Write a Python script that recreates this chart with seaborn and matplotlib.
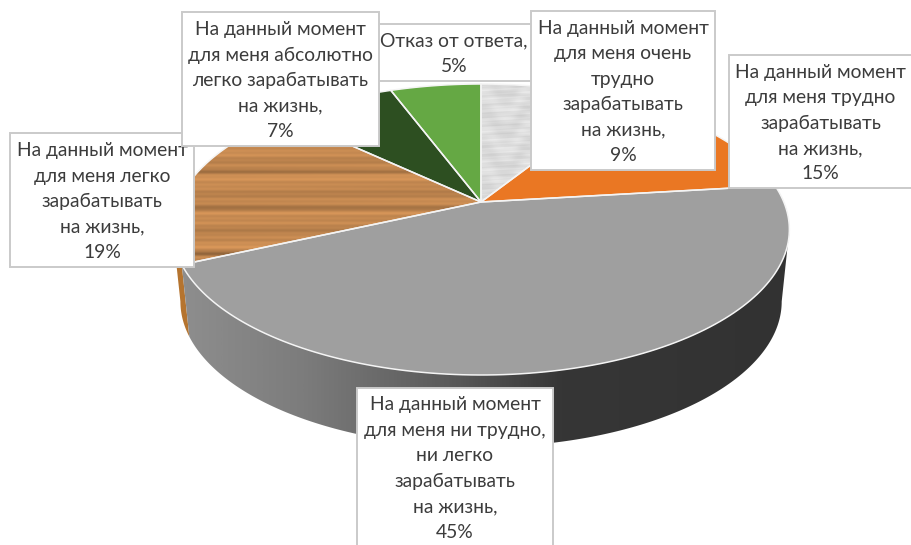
"""3D-looking pie: how easy it is to earn a living (survey shares)."""

import numpy as np
import matplotlib
matplotlib.use("Agg")
import matplotlib.pyplot as plt
import seaborn as sns
from matplotlib.colors import LinearSegmentedColormap
from matplotlib.patches import Polygon, Rectangle
from matplotlib.transforms import Affine2D

categories = [
    "очень трудно", "трудно", "ни трудно, ни легко",
    "легко", "абсолютно легко", "Отказ от ответа",
]
slice_sizes = [8.9, 14.2, 45.15, 18.75, 7.3, 5.7]
slice_colors = ["#d4d4d4", "#ea7723", "#9f9f9f", "#bd834a", "#2d4f21", "#65a844"]

label_texts = [
    "На данный момент\nдля меня очень\nтрудно\nзарабатывать\nна жизнь,\n9%",
    "На данный момент\nдля меня трудно\nзарабатывать\nна жизнь,\n15%",
    "На данный момент\nдля меня ни трудно,\nни легко\nзарабатывать\nна жизнь,\n45%",
    "На данный момент\nдля меня легко\nзарабатывать\nна жизнь,\n19%",
    "На данный момент\nдля меня абсолютно\nлегко зарабатывать\nна жизнь,\n7%",
    "Отказ от ответа,\n5%",
]
# label boxes in pixels: left, top, right, bottom
label_boxes = [
    (531, 11, 715, 170),
    (729, 55, 912, 188),
    (357, 388, 553, 546),
    (10, 133, 194, 267),
    (182, 12, 379, 146),
    (376, 24, 532, 81),
]
label_order = [3, 2, 1, 5, 4, 0]

# perspective of the pie top, in pixels
APEX_X, APEX_Y = 481, 202
A, B, K = 302.8, 140.3, 0.189
DEPTH = 72
SHRINK = 0.975
CX = 483


def warp(x, y):
    w = 1 + K * y
    return APEX_X + A * x / w, APEX_Y - B * y / w


def rim(clock_deg):
    t = np.radians(clock_deg)
    return warp(np.sin(t), np.cos(t))


def wall_polygon(start, end):
    t = np.linspace(start, end, 200)
    xt, yt = rim(t)
    xb = CX + (xt - CX) * SHRINK
    yb = yt + DEPTH
    return np.column_stack([np.r_[xt, xb[::-1]], np.r_[yt, yb[::-1]]])


def marble_texture():
    yy, xx = np.mgrid[0:150, 0:150]
    v = (np.sin(yy * 0.62 + np.sin(xx * 0.05) * 3) * 0.4
         + np.sin(yy * 1.5 + xx * 0.07) * 0.3
         + np.sin(yy * 0.17 + np.sin(xx * 0.13) * 2 + xx * 0.02) * 0.45
         + np.sin(yy * 2.9 + xx * 0.19) * 0.15)
    return 220 + v * 12


def wood_texture():
    y = np.arange(130.0)[:, None]
    xx = np.arange(320.0)[None, :]
    v = (np.sin(y * 0.55) * 0.035 + np.sin(y * 1.3 + 1) * 0.03
         + np.sin(y * 0.19 + xx * 0.004) * 0.04)
    # dark grain bands, given as rows from the top of the texture
    for row, amp in [(31, 0.14), (68, 0.2), (113, 0.24), (92, 0.05), (50, 0.05)]:
        v = v - amp * np.exp(-((y - row) / 2.5) ** 2)
    base = np.array([0.775, 0.54, 0.32])
    rgb = np.clip(base[None, None, :] * (1 + v[:, :, None]), 0, 1)
    return rgb


sns.set_theme(style="white")
plt.rcParams["font.family"] = ["Lato", "Noto Sans", "DejaVu Sans"]

fig = plt.figure(figsize=(9.12, 5.45), dpi=100, facecolor="white")
ax = fig.add_axes([0, 0, 1, 1])

wedges, _ = ax.pie(slice_sizes, colors=slice_colors, startangle=90, counterclock=False)

cum = np.cumsum(slice_sizes) / np.sum(slice_sizes) * 360
right_edge = np.degrees(np.arccos(-K))
left_edge = 360 - right_edge

# side wall: the wood slice shows as a thin sliver, then the gray slice
wood_wall = Polygon(wall_polygon(cum[2], left_edge), closed=True,
                    facecolor="#b5742f", edgecolor="none", zorder=1)
ax.add_patch(wood_wall)

wall_patch = Polygon(wall_polygon(right_edge, cum[2]), closed=True,
                     facecolor="none", edgecolor="none", zorder=2)
ax.add_patch(wall_patch)
wall_cmap = LinearSegmentedColormap.from_list(
    "wall", [(0, "#8e8e8e"), (0.2, "#7c7c7c"), (0.45, "#585858"),
             (0.62, "#363636"), (1, "#323232")])
grad = np.linspace(0, 1, 512)[None, :]
im = ax.imshow(grad, extent=(180, 795, 480, 180), cmap=wall_cmap, aspect="auto", zorder=2)
im.set_clip_path(wall_patch)

# slice tops: take wedge outlines from the pie and push them through the perspective
for i, w in enumerate(wedges):
    pts = w.get_path().transformed(Affine2D().scale(1000)).to_polygons()[0] / 1000
    w.remove()
    x, y = warp(pts[:, 0], pts[:, 1])
    xy = np.column_stack([x, y])
    if i == 0:
        fill = Polygon(xy, closed=True, facecolor="none", edgecolor="none", zorder=3)
        ax.add_patch(fill)
        img = ax.imshow(marble_texture(), extent=(470, 620, 210, 60), cmap="gray",
                        vmin=0, vmax=255, aspect="auto", zorder=3)
        img.set_clip_path(fill)
    elif i == 3:
        fill = Polygon(xy, closed=True, facecolor="none", edgecolor="none", zorder=3)
        ax.add_patch(fill)
        img = ax.imshow(wood_texture(), extent=(170, 490, 270, 140), aspect="auto", zorder=3)
        img.set_clip_path(fill)
    else:
        ax.add_patch(Polygon(xy, closed=True, facecolor=slice_colors[i], edgecolor="none", zorder=3))
    ax.add_patch(Polygon(xy, closed=True, facecolor="none", edgecolor="#f4f4f4", lw=1.1, zorder=4))

for n, i in enumerate(label_order):
    x0, y0, x1, y1 = label_boxes[i]
    z = 10 + n
    ax.add_patch(Rectangle((x0, y0), x1 - x0, y1 - y0, facecolor="white",
                           edgecolor="#cacaca", lw=1.4, zorder=z))
    ax.text((x0 + x1) / 2, (y0 + y1) / 2 + 1.5, label_texts[i], ha="center", va="center",
            fontsize=13.9, color="#3c3c3c", linespacing=1.6, zorder=z + 0.5)

ax.set_aspect("auto")
ax.set_xlim(0, 912)
ax.set_ylim(545, 0)
ax.axis("off")

fig.savefig("out.png", dpi=100, facecolor="white")
